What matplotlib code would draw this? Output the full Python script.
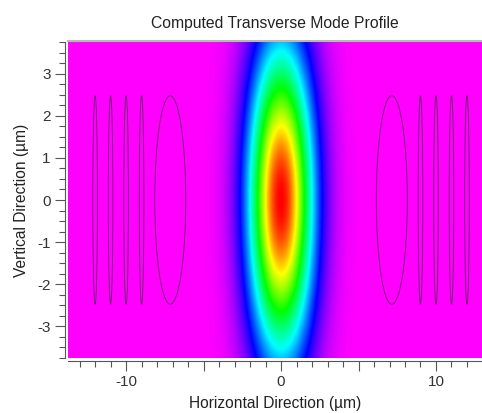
import numpy as np
import matplotlib
matplotlib.use("Agg")
import matplotlib.pyplot as plt
from matplotlib.colors import LinearSegmentedColormap
from matplotlib.patches import Ellipse
from matplotlib.ticker import MultipleLocator, FuncFormatter

plt.rcParams['font.family'] = ['Liberation Sans', 'DejaVu Sans']

# mode profile: gaussian 1/e widths (um)
mode_center = [0.0, 0.0]
mode_width_x = 2.1
mode_width_y = 3.7

# outlined structures (ellipses): centres, full widths, full heights (um)
ell_x = [-12.0, -11.0, -10.0, -9.0, -7.15, 7.15, 9.0, 10.0, 11.0, 12.0]
ell_w = [0.3, 0.3, 0.3, 0.3, 2.0, 2.0, 0.3, 0.3, 0.3, 0.3]
ell_h = [4.95, 4.95, 4.95, 4.95, 4.95, 4.95, 4.95, 4.95, 4.95, 4.95]

x_range = [-13.75, 12.97]
y_range = [-3.75, 3.75]

xs = np.linspace(x_range[0], x_range[1], 600)
ys = np.linspace(y_range[0], y_range[1], 400)
X, Y = np.meshgrid(xs, ys)
field = np.exp(-((X - mode_center[0]) / mode_width_x) ** 2
               - ((Y - mode_center[1]) / mode_width_y) ** 2)

cmap = LinearSegmentedColormap.from_list(
    'mode', ['#ff00ff', '#0000ff', '#00ffff', '#00ff00', '#ffff00', '#ff0000'])

fig = plt.figure(figsize=(4.82, 4.13), dpi=100)
ax = fig.add_axes([68 / 482, 55 / 413, 1 - 68 / 482, 316 / 413])
ax.imshow(field, extent=[x_range[0], x_range[1], y_range[0], y_range[1]],
          origin='lower', cmap=cmap, vmin=0, vmax=1, aspect='auto',
          interpolation='bilinear')

for cx, w, h in zip(ell_x, ell_w, ell_h):
    ax.add_patch(Ellipse((cx, 0), w, h, fill=False, edgecolor='#7a237a', lw=0.7))

ax.set_xlim(x_range)
ax.set_ylim(y_range)

ax.xaxis.set_major_locator(MultipleLocator(5))
ax.xaxis.set_minor_locator(MultipleLocator(1))
ax.xaxis.set_major_formatter(FuncFormatter(lambda v, p: f"{v:.0f}" if round(v) % 10 == 0 else ""))
ax.yaxis.set_major_locator(MultipleLocator(1))
ax.yaxis.set_minor_locator(MultipleLocator(0.25))
ax.yaxis.set_major_formatter(FuncFormatter(lambda v, p: f"{v:.0f}"))

ax.tick_params(which='major', length=7, width=0.8, color='#555555',
               labelsize=11, labelcolor='#333333', pad=3)
ax.tick_params(which='minor', length=4, width=0.8, color='#555555')

for side in ['left', 'bottom']:
    ax.spines[side].set_position(('outward', 2.5))
    ax.spines[side].set_color('#555555')
    ax.spines[side].set_linewidth(0.8)
ax.spines['right'].set_visible(False)
ax.spines['top'].set_color('#b8b8b8')
ax.spines['top'].set_linewidth(1.5)
ax.spines['top'].set_position(('outward', 1))

ax.set_title('Computed Transverse Mode Profile', fontsize=11.3, color='#222222', pad=10)
ax.set_xlabel('Horizontal Direction (\u00b5m)', fontsize=11.2, color='#222222', labelpad=5)
ax.set_ylabel('Vertical Direction (\u00b5m)', fontsize=11.2, color='#222222', labelpad=6)

fig.savefig('out.png', dpi=100)
